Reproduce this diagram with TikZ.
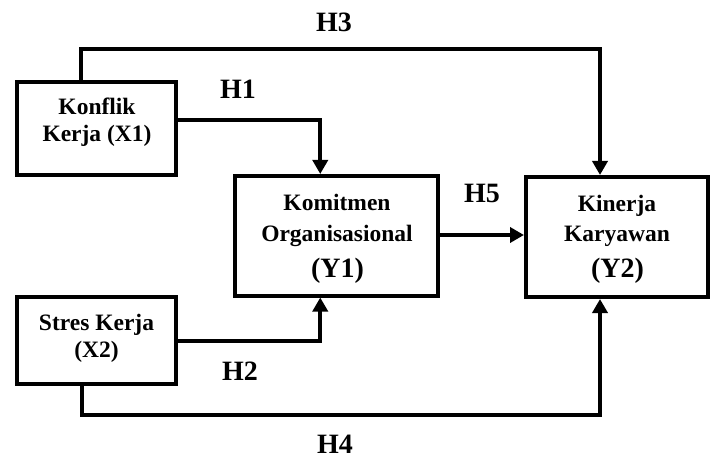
\documentclass[tikz,border=0pt]{standalone}
\usepackage{fontspec}
\setmainfont{Liberation Serif}
\usetikzlibrary{arrows.meta}
\begin{document}
\begin{tikzpicture}[x=1pt,y=-1pt,
  box/.style={draw=black,line width=4pt,minimum width=#1,inner sep=0pt},
  conn/.style={line width=4pt,-{Triangle[length=14pt,width=15pt]}},
  plain/.style={line width=4pt},
  txt/.style={anchor=base,inner sep=0pt,font=\fontsize{23.5}{28}\selectfont\bfseries},
  big/.style={anchor=base,inner sep=0pt,font=\fontsize{28}{32}\selectfont\bfseries}]
\useasboundingbox (0,0) rectangle (714,457);
\node[box=159pt,minimum height=93pt] (X1) at (96.75,128.5) {};
\node[box=159pt,minimum height=87pt] (X2) at (96.75,340.5) {};
\node[box=202.5pt,minimum height=119.5pt] (Y1) at (336.25,235.75) {};
\node[box=181.5pt,minimum height=120pt] (Y2) at (616.75,237) {};
% texts
\node[txt] (x1a) at (97,115) {Konflik};
\node[txt] (x1b) at (97,142) {Kerja (X1)};
\node[txt] (x2a) at (96.5,330) {Stres Kerja};
\node[txt] (x2b) at (96.5,357) {(X2)};
\node[txt] (y1a) at (337,210) {Komitmen};
\node[txt] (y1b) at (337,241) {Organisasional};
\node[big] (y1c) at (337.5,277) {(Y1)};
\node[txt] (y2a) at (617,211.5) {Kinerja};
\node[txt] (y2b) at (617,241.5) {Karyawan};
\node[big] (y2c) at (617.5,277.5) {(Y2)};
% labels
\node[big] (h3) at (334,32) {H3};
\node[big] (h1) at (238,99) {H1};
\node[big] (h5) at (482,202) {H5};
\node[big] (h2) at (240,380) {H2};
\node[big] (h4) at (335,453) {H4};
% connectors
\coordinate (t3) at (600,49.5);
\coordinate (b4) at (600,415);
\draw[conn] ([xshift=-15.5pt]X1.north) |- (t3) -- (t3 |- Y2.north);
\draw[conn] ([yshift=8pt]X1.east) -| ([xshift=-16pt]Y1.north);
\draw[conn] (X2.east) -| ([xshift=-16pt]Y1.south);
\draw[conn] ([xshift=-14.5pt]X2.south) |- (b4) -- (b4 |- Y2.south);
\draw[conn] ([yshift=0.75pt]Y1.east) -- ([yshift=0.75pt]Y1.east -| Y2.west);
\end{tikzpicture}
\end{document}
